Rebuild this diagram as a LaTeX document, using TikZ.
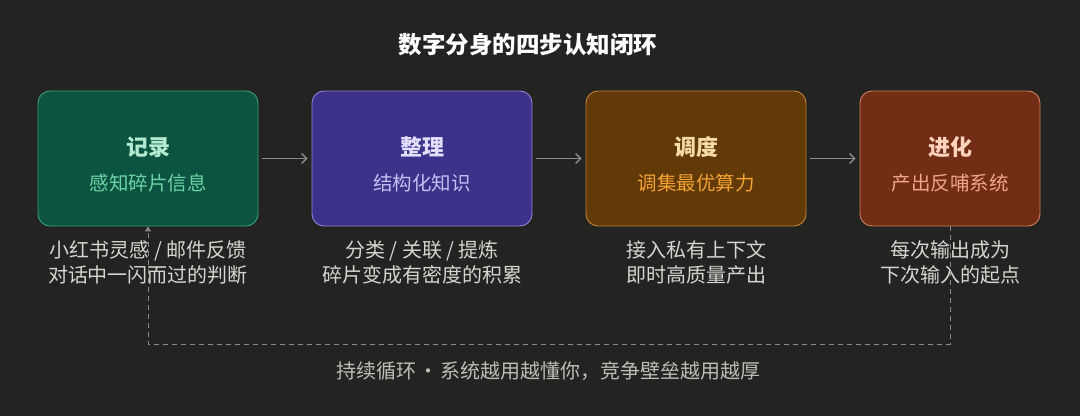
\documentclass[tikz,border=0pt]{standalone}
\usepackage{fontspec}
\setmainfont{Noto Sans CJK SC}
\usetikzlibrary{arrows.meta}
\definecolor{bg}{HTML}{232322}
\definecolor{gfill}{HTML}{0C5441}\definecolor{gdraw}{HTML}{3E9C78}\definecolor{gtit}{HTML}{B4EBD0}\definecolor{gsub}{HTML}{6CD3A6}
\definecolor{pfill}{HTML}{3C3289}\definecolor{pdraw}{HTML}{8C84D2}\definecolor{ptit}{HTML}{E2DEFF}\definecolor{psub}{HTML}{C4BEF2}
\definecolor{ofill}{HTML}{623A08}\definecolor{odraw}{HTML}{C48630}\definecolor{otit}{HTML}{F6DAA8}\definecolor{osub}{HTML}{F2A234}
\definecolor{rfill}{HTML}{722D15}\definecolor{rdraw}{HTML}{CC7E5E}\definecolor{rtit}{HTML}{FFD3BE}\definecolor{rsub}{HTML}{F2A488}
\definecolor{desc}{HTML}{D4D4D0}\definecolor{foot}{HTML}{BDBDB8}\definecolor{conn}{HTML}{8A8A86}
\tikzset{
  x=1pt,y=1pt,
  card/.style={draw=#1, line width=0.9pt, rounded corners=12pt, minimum height=135pt, inner sep=0pt},
  ttl/.style={font=\fontsize{22}{26}\selectfont\bfseries},
  sub/.style={font=\fontsize{19.5}{23}\selectfont},
  dsc/.style={font=\fontsize{20}{25}\selectfont, text=desc, align=center},
  flow/.style={draw=conn, line width=1.3pt, -{Straight Barb[length=5pt,width=10pt]}},
  loop/.style={draw=conn, line width=1pt, dash pattern=on 5pt off 4pt, -{Triangle[length=5pt,width=6pt]}}
}
\begin{document}
\begin{tikzpicture}
\fill[bg] (0,0) rectangle (1080,416);
\useasboundingbox (0,0) rectangle (1080,416);
\node[font=\fontsize{23.5}{27}\selectfont\bfseries, text=white] (title) at (528,371) {数字分身的四步认知闭环};
% boxes
\node[card=gdraw, fill=gfill, minimum width=220pt] (b1) at (148,257.5) {};
\node[card=pdraw, fill=pfill, minimum width=220pt] (b2) at (422,257.5) {};
\node[card=odraw, fill=ofill, minimum width=220pt] (b3) at (696,257.5) {};
\node[card=rdraw, fill=rfill, minimum width=180pt] (b4) at (950,257.5) {};
\node[ttl, text=gtit] (t1) at (148,269) {记录};
\node[sub, text=gsub] (s1) at (148,233) {感知碎片信息};
\node[ttl, text=ptit] (t2) at (422,269) {整理};
\node[sub, text=psub] (s2) at (422,233) {结构化知识};
\node[ttl, text=otit] (t3) at (696,269) {调度};
\node[sub, text=osub] (s3) at (696,233) {调集最优算力};
\node[ttl, text=rtit] (t4) at (950,269) {进化};
\node[sub, text=rsub] (s4) at (950,233) {产出反哺系统};
% arrows
\draw[flow] ([xshift=4pt]b1.east) -- ([xshift=-4pt]b2.west);
\draw[flow] ([xshift=4pt]b2.east) -- ([xshift=-4pt]b3.west);
\draw[flow] ([xshift=4pt]b3.east) -- ([xshift=-4pt]b4.west);
% descriptions
\node[dsc] (d1) at (148,153.5) {小红书灵感 / 邮件反馈\\对话中一闪而过的判断};
\node[dsc] (d2) at (422,153.5) {分类 / 关联 / 提炼\\碎片变成有密度的积累};
\node[dsc] (d3) at (696,153.5) {接入私有上下文\\即时高质量产出};
\node[dsc] (d4) at (950,153.5) {每次输出成为\\下次输入的起点};
% loop
\coordinate (lr) at (950,72);
\coordinate (ll) at (148,72);
\draw[loop] (b4.south) -- (lr) -- (ll) -- (b1.south);
\node[font=\fontsize{20}{24}\selectfont, text=foot] (f) at (548,45) {持续循环\kern2pt·\kern2pt系统越用越懂你，竞争壁垒越用越厚};
\end{tikzpicture}
\end{document}
